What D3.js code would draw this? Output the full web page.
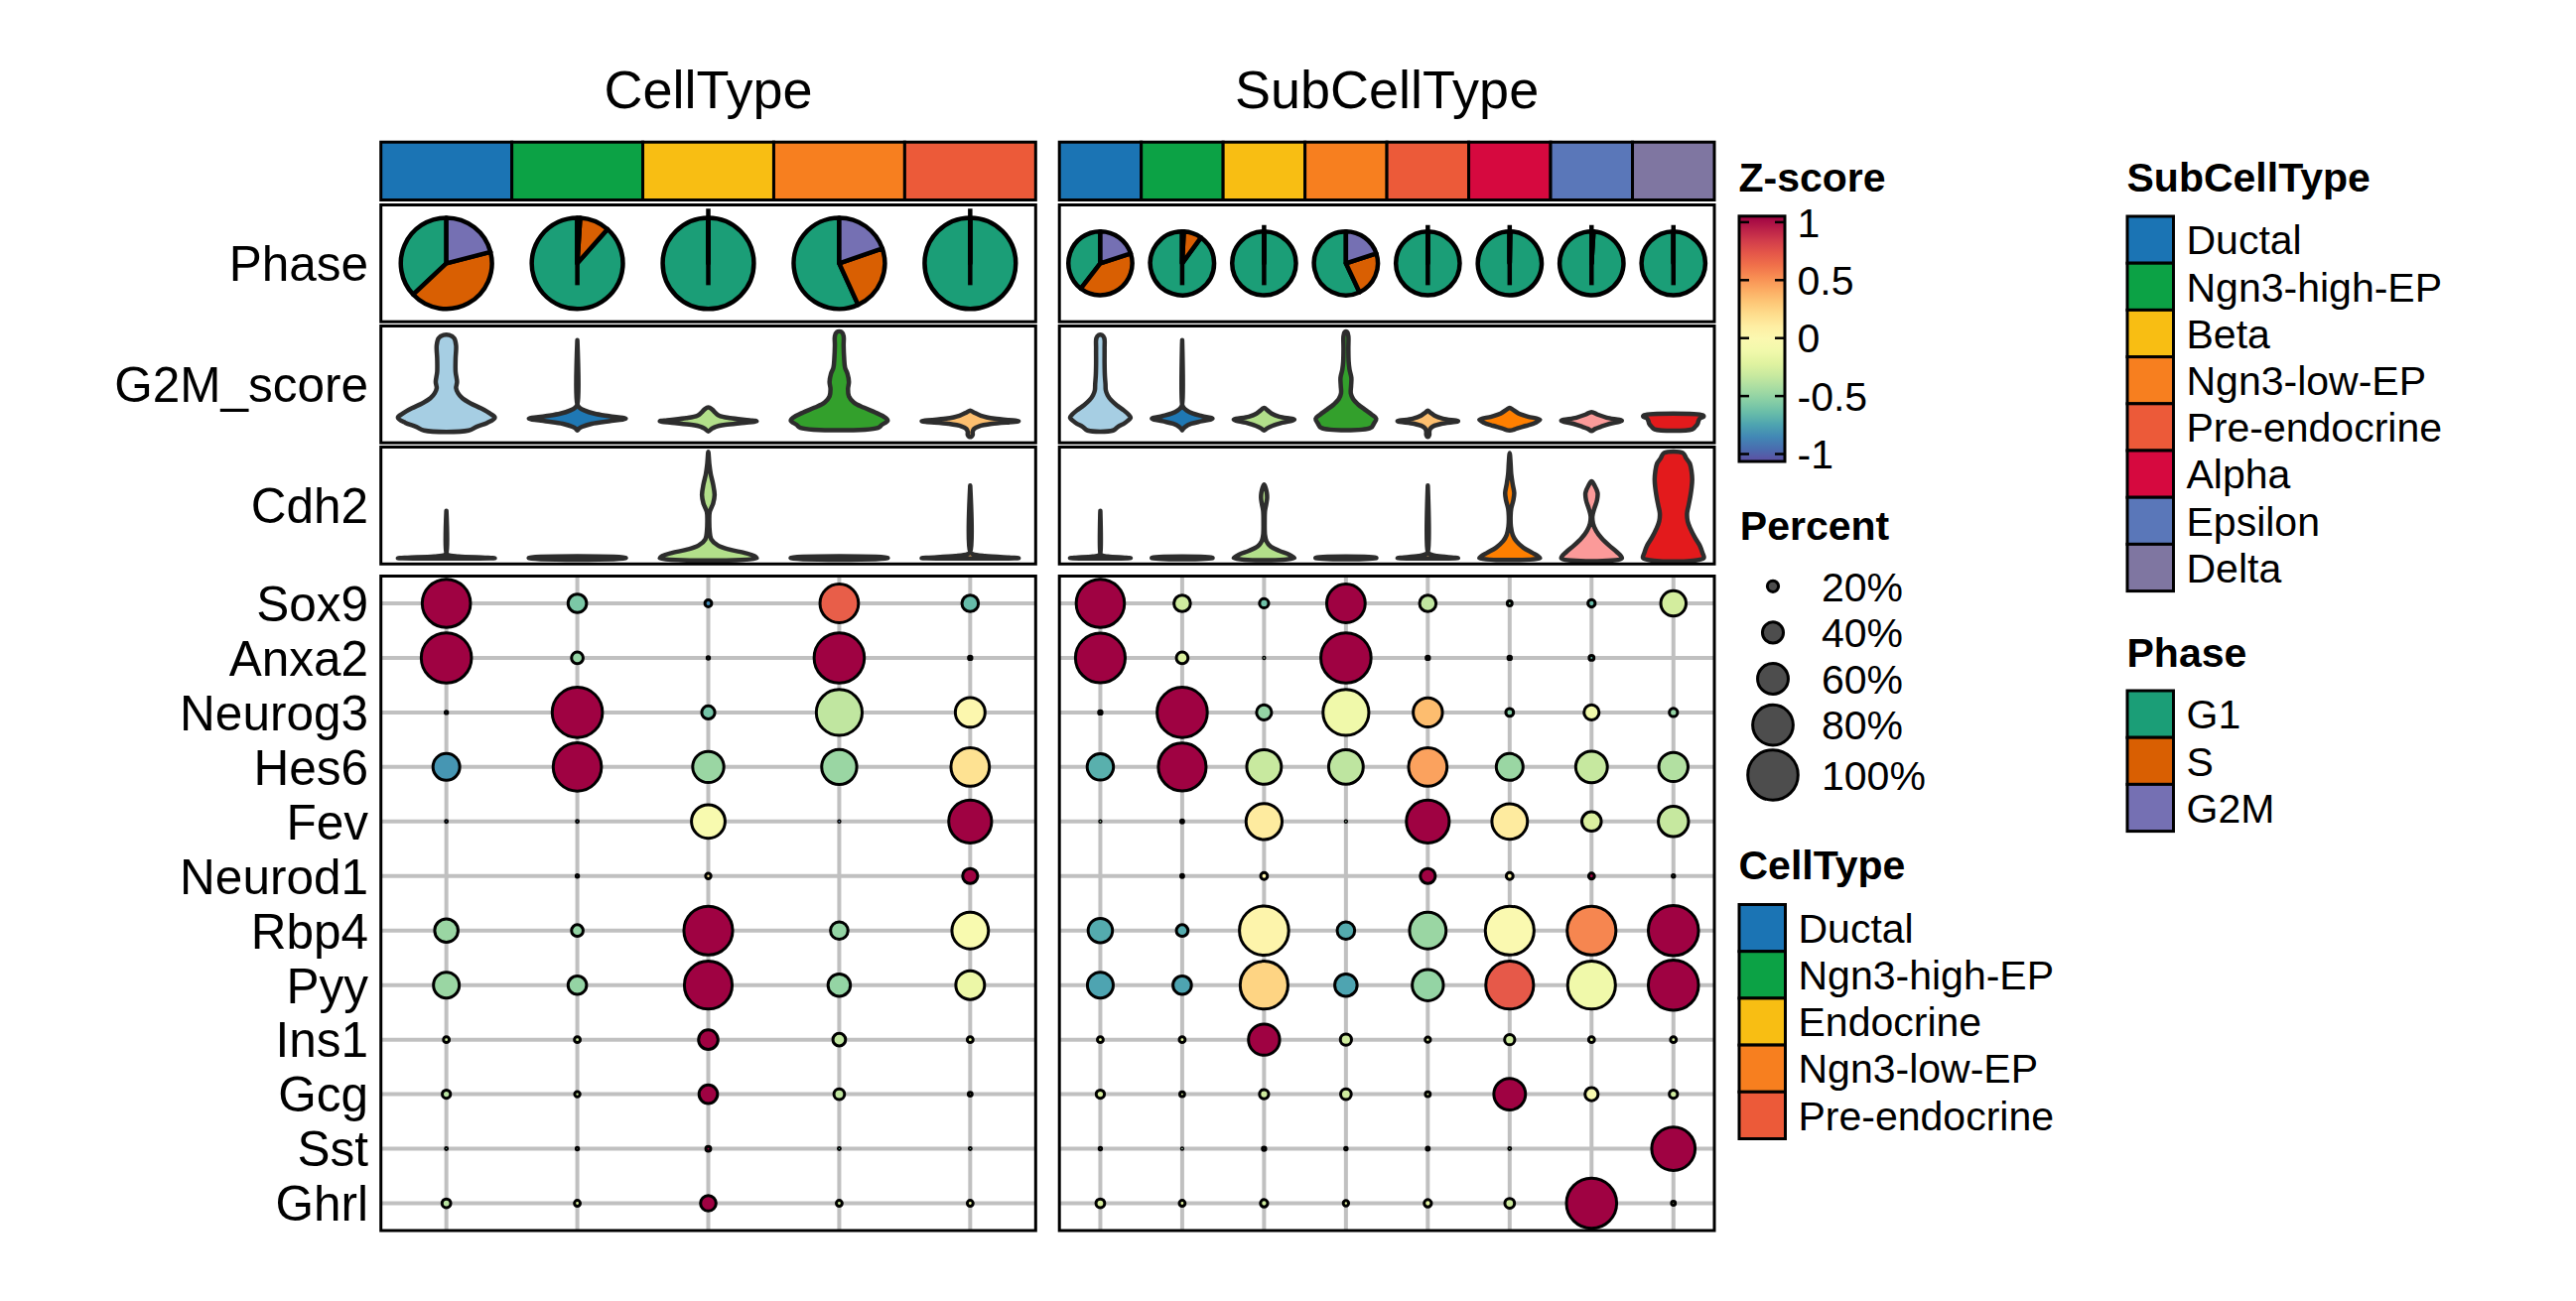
<!DOCTYPE html>
<html><head><meta charset="utf-8">
<script src="https://cdn.jsdelivr.net/npm/d3@7"></script>
<style>
body{margin:0;background:#fff}
svg{display:block}
text{font-family:"Liberation Sans",Arial,Helvetica,sans-serif;fill:#000}
</style>
</head><body>
<svg id="c" width="2595" height="1311"></svg>
<script>
// ---------------- DATA ----------------
const cellTypes = ["Ductal","Ngn3-high-EP","Endocrine","Ngn3-low-EP","Pre-endocrine"];
const subCellTypes = ["Ductal","Ngn3-high-EP","Beta","Ngn3-low-EP","Pre-endocrine","Alpha","Epsilon","Delta"];
const cellTypeColors = ["#1B74B4","#0CA245","#F8BE13","#F77F1F","#EC5A39"];
const subCellTypeColors = ["#1B74B4","#0CA245","#F8BE13","#F77F1F","#EC5A39","#D6093F","#5A77B9","#7F76A1"];
const genes = ["Sox9","Anxa2","Neurog3","Hes6","Fev","Neurod1","Rbp4","Pyy","Ins1","Gcg","Sst","Ghrl"];
const trackLabels = ["Phase","G2M_score","Cdh2"];

const phases = ["G1","S","G2M"];
const phaseColors = ["#1B9E77","#D95F02","#7570B3"];
// fractions per group: [G1, S, G2M]
const phaseCellType = [[0.37,0.42,0.21],[0.885,0.105,0.01],[1,0,0],[0.568,0.235,0.197],[1,0,0]];
const phaseSubCellType = [[0.395,0.405,0.2],[0.9,0.092,0.008],[1,0,0],[0.57,0.23,0.2],[1,0,0],[0.997,0.003,0],[0.99,0.008,0.002],[1,0,0]];

const violinColorsCellType = ["#A6CEE3","#1F78B4","#B2DF8A","#33A02C","#FDBF6F"];
const violinColorsSubCellType = ["#A6CEE3","#1F78B4","#B2DF8A","#33A02C","#FDBF6F","#FF7F00","#FB9A99","#E31A1C"];

// violin density profiles: [value, relative width]
const g2mCellType = [
  [[0.98,0.06],[0.95,0.16],[0.88,0.2],[0.75,0.19],[0.62,0.19],[0.52,0.22],[0.46,0.2],[0.41,0.24],[0.36,0.33],[0.31,0.5],[0.26,0.72],[0.21,0.9],[0.17,1.0],[0.12,0.85],[0.08,0.62],[0.044,0.46]],
  [[0.93,0],[0.30,0],[0.27,0.04],[0.24,0.15],[0.21,0.35],[0.185,0.65],[0.16,1.0],[0.135,0.65],[0.11,0.3],[0.08,0.1],[0.06,0.03],[0.044,0]],
  [[0.27,0],[0.25,0.08],[0.22,0.14],[0.19,0.22],[0.165,0.45],[0.145,0.85],[0.135,1.0],[0.12,0.75],[0.1,0.35],[0.08,0.15],[0.06,0.07],[0.035,0]],
  [[1.01,0.05],[0.97,0.09],[0.88,0.09],[0.76,0.1],[0.66,0.12],[0.6,0.17],[0.52,0.2],[0.45,0.18],[0.38,0.2],[0.32,0.3],[0.27,0.5],[0.22,0.75],[0.17,0.95],[0.14,1.0],[0.1,0.88],[0.07,0.8]],
  [[0.24,0],[0.22,0.08],[0.19,0.22],[0.16,0.5],[0.135,1.0],[0.11,0.45],[0.085,0.18],[0.06,0.08],[0.03,0.05],[0.0,0.05],[-0.02,0]]
];
const g2mSubCellType = [
  [[0.98,0.06],[0.95,0.13],[0.85,0.14],[0.7,0.14],[0.58,0.15],[0.5,0.17],[0.44,0.18],[0.39,0.24],[0.34,0.36],[0.29,0.55],[0.24,0.78],[0.2,0.93],[0.17,1.0],[0.12,0.82],[0.08,0.58],[0.044,0.42]],
  [[0.93,0],[0.30,0],[0.27,0.04],[0.24,0.15],[0.21,0.35],[0.185,0.65],[0.16,1.0],[0.135,0.65],[0.11,0.3],[0.08,0.1],[0.06,0.03],[0.044,0]],
  [[0.266,0],[0.24,0.12],[0.21,0.25],[0.18,0.5],[0.15,1.0],[0.12,0.6],[0.09,0.28],[0.065,0.1],[0.045,0]],
  [[1.01,0.04],[0.97,0.08],[0.85,0.08],[0.72,0.09],[0.64,0.12],[0.56,0.18],[0.48,0.17],[0.41,0.16],[0.35,0.24],[0.3,0.4],[0.25,0.62],[0.2,0.85],[0.16,1.0],[0.11,0.92],[0.07,0.82]],
  [[0.24,0],[0.22,0.08],[0.19,0.22],[0.16,0.5],[0.135,1.0],[0.11,0.45],[0.085,0.18],[0.06,0.08],[0.03,0.05],[0.0,0.05],[-0.02,0]],
  [[0.266,0],[0.245,0.12],[0.21,0.3],[0.18,0.6],[0.15,1.0],[0.12,0.85],[0.09,0.55],[0.065,0.25],[0.045,0.05]],
  [[0.225,0],[0.2,0.2],[0.17,0.5],[0.14,1.0],[0.11,0.6],[0.08,0.3],[0.06,0.12],[0.04,0]],
  [[0.194,0.96],[0.18,1.0],[0.165,0.88],[0.14,0.83],[0.11,0.8],[0.08,0.72],[0.055,0.62]]
];
const cdh2CellType = [
  [[0.45,0],[0.05,0],[0.03,0.03],[0.015,0.25],[0.005,0.8],[0,1.0]],
  [[0.004,1.0],[0,1.0]],
  [[1.01,0],[0.9,0.02],[0.8,0.05],[0.7,0.1],[0.6,0.13],[0.52,0.1],[0.44,0.03],[0.35,0.02],[0.25,0.03],[0.18,0.06],[0.12,0.2],[0.08,0.45],[0.05,0.75],[0.02,0.95],[0,1.0]],
  [[0.004,1.0],[0,1.0]],
  [[0.69,0],[0.06,0],[0.04,0.05],[0.02,0.3],[0.005,0.85],[0,1.0]]
];
const cdh2SubCellType = [
  [[0.45,0],[0.05,0],[0.03,0.03],[0.015,0.25],[0.005,0.8],[0,1.0]],
  [[0.004,1.0],[0,1.0]],
  [[0.70,0],[0.67,0.05],[0.62,0.09],[0.57,0.1],[0.51,0.07],[0.45,0.03],[0.35,0.02],[0.22,0.03],[0.16,0.08],[0.11,0.22],[0.07,0.5],[0.035,0.82],[0,1.0]],
  [[0.004,1.0],[0,1.0]],
  [[0.69,0],[0.06,0],[0.04,0.05],[0.02,0.3],[0.005,0.85],[0,1.0]],
  [[1.0,0],[0.9,0.03],[0.8,0.05],[0.7,0.1],[0.62,0.15],[0.55,0.12],[0.47,0.05],[0.4,0.03],[0.3,0.04],[0.22,0.1],[0.16,0.22],[0.1,0.45],[0.05,0.75],[0.02,0.93],[0,1.0]],
  [[0.73,0],[0.69,0.1],[0.62,0.2],[0.55,0.18],[0.47,0.09],[0.4,0.03],[0.33,0.05],[0.26,0.15],[0.19,0.33],[0.12,0.58],[0.06,0.83],[0,1.0]],
  [[1.0,0.31],[0.95,0.42],[0.9,0.54],[0.82,0.6],[0.75,0.62],[0.67,0.6],[0.59,0.56],[0.5,0.5],[0.43,0.45],[0.35,0.47],[0.28,0.56],[0.2,0.7],[0.12,0.87],[0.05,0.96],[0,1.0]]
];

// dot plot: percent (fraction) and z-score, rows = genes
const pctCellType = [
  [0.96,0.35,0.11,0.76,0.31],
  [1.0,0.21,0.02,1.0,0.04],
  [0.02,1.0,0.24,0.91,0.58],
  [0.52,0.96,0.61,0.69,0.76],
  [0.01,0.01,0.66,0.0,0.85],
  [null,0.02,0.08,null,0.28],
  [0.45,0.21,0.97,0.33,0.72],
  [0.5,0.35,0.95,0.43,0.56],
  [0.09,0.09,0.37,0.23,0.09],
  [0.14,0.08,0.35,0.19,0.05],
  [0.01,0.02,0.07,0.01,0.01],
  [0.15,0.09,0.29,0.09,0.09]
];
const zCellType = [
  [1.05,-0.58,-0.85,0.7,-0.65],
  [1.05,-0.5,-0.8,1.05,-0.8],
  [-0.9,1.05,-0.6,-0.35,0.02],
  [-0.8,1.05,-0.48,-0.48,0.18],
  [-0.9,-0.9,-0.05,-0.9,1.05],
  [null,-0.9,0.15,null,1.05],
  [-0.48,-0.5,1.05,-0.5,-0.05],
  [-0.48,-0.5,1.05,-0.5,-0.15],
  [-0.3,-0.3,1.05,-0.35,-0.2],
  [-0.38,-0.3,1.05,-0.35,-0.2],
  [-0.6,-0.2,1.05,-0.6,-0.6],
  [-0.38,-0.25,1.05,-0.3,-0.15]
];
const pctSubCellType = [
  [0.96,0.31,0.16,0.76,0.31,0.07,0.12,0.49],
  [0.99,0.21,0.0,1.0,0.04,0.04,0.07,null],
  [0.04,1.0,0.28,0.91,0.57,0.13,0.28,0.14],
  [0.51,0.95,0.68,0.68,0.76,0.52,0.62,0.57],
  [0.0,0.03,0.71,0.0,0.85,0.7,0.37,0.59],
  [null,0.03,0.11,null,0.28,0.11,0.09,0.02],
  [0.47,0.21,0.98,0.33,0.72,0.97,0.97,1.0],
  [0.5,0.35,0.95,0.43,0.61,0.95,0.95,1.0],
  [0.09,0.09,0.61,0.2,0.08,0.18,0.09,0.09],
  [0.14,0.07,0.16,0.19,0.07,0.62,0.24,0.14],
  [0.02,0.0,0.04,0.02,0.03,0.01,null,0.86],
  [0.15,0.09,0.12,0.08,0.12,0.17,1.0,0.05]
];
const zSubCellType = [
  [1.05,-0.3,-0.62,1.05,-0.35,-0.5,-0.65,-0.28],
  [1.05,-0.25,-0.5,1.05,-0.5,-0.5,-0.65,null],
  [-0.5,1.05,-0.5,-0.12,0.35,-0.55,-0.12,-0.5],
  [-0.7,1.05,-0.32,-0.36,0.45,-0.48,-0.33,-0.4],
  [-0.5,-0.5,0.12,-0.5,1.05,0.12,-0.25,-0.33],
  [null,-0.5,0.05,null,1.05,0.05,1.05,-0.5],
  [-0.72,-0.72,0.05,-0.72,-0.48,-0.02,0.55,1.05],
  [-0.75,-0.75,0.25,-0.75,-0.5,0.72,-0.12,1.05],
  [-0.2,-0.2,1.05,-0.3,-0.2,-0.3,-0.2,-0.25],
  [-0.25,-0.25,-0.3,-0.3,-0.2,1.05,-0.05,-0.3],
  [-0.5,-0.5,-0.5,-0.5,-0.5,-0.5,null,1.05],
  [-0.25,-0.2,-0.3,-0.2,-0.2,-0.3,1.05,-0.2]
];

const zDomain = [-1.064, 1.052];
const zTicks = [1, 0.5, 0, -0.5, -1];
const zTickLabels = ["1", "0.5", "0", "-0.5", "-1"];
const percentBreaks = [0.2, 0.4, 0.6, 0.8, 1.0];
const percentLabels = ["20%", "40%", "60%", "80%", "100%"];
const g2mDomain = [-0.02, 1.012];
const cdh2Domain = [0, 1.0];

// ---------------- LAYOUT ----------------
const svg = d3.select("#c");
const leftX = [383.7, 1043.3], rightX = [1067.2, 1727];
const stripY = [143.2, 201.5], phaseY = [206.5, 324.2], g2mY = [328.5, 446.2], cdh2Y = [450.5, 568.3], dotY = [580.5, 1240];
const fontAxis = 49.5, fontLegend = 41;
const dotStroke = 3;

const xLeft = d3.scaleBand().domain(cellTypes).range(leftX);
const xRight = d3.scaleBand().domain(subCellTypes).range(rightX);
const yGene = d3.scaleBand().domain(genes).range(dotY);
const zColor = d3.scaleSequential(t => d3.interpolateSpectral(1 - t)).domain(zDomain);
const rScale = d3.scaleLinear().domain([0, 1]).range([2.2, 26.8]);

function padRange(y0, y1){ const p = (y1 - y0) * 0.05; return [y1 - p, y0 + p]; }
const yG2M = d3.scaleLinear().domain(g2mDomain).range(padRange(...g2mY));
const yCdh2 = d3.scaleLinear().domain(cdh2Domain).range(padRange(...cdh2Y));

function frame(x, y){
  svg.append("rect").attr("x", x[0]).attr("y", y[0]).attr("width", x[1]-x[0]).attr("height", y[1]-y[0])
    .attr("fill", "none").attr("stroke", "#000").attr("stroke-width", 3);
}

// titles
svg.append("text").attr("x", (leftX[0]+leftX[1])/2).attr("y", 109).attr("text-anchor","middle").attr("font-size", 54).text("CellType");
svg.append("text").attr("x", (rightX[0]+rightX[1])/2).attr("y", 109).attr("text-anchor","middle").attr("font-size", 54).text("SubCellType");

// strips
function strip(xs, cats, cols){
  svg.append("g").selectAll("rect").data(cats).join("rect")
    .attr("x", d => xs(d)).attr("y", stripY[0]).attr("width", xs.bandwidth()).attr("height", stripY[1]-stripY[0])
    .attr("fill", (d,i) => cols[i]).attr("stroke", "#000").attr("stroke-width", 3);
}
strip(xLeft, cellTypes, cellTypeColors);
strip(xRight, subCellTypes, subCellTypeColors);

// pies
function pies(xs, cats, fracs){
  const cy = (phaseY[0]+phaseY[1])/2;
  const r = 0.39 * Math.min(xs.bandwidth(), phaseY[1]-phaseY[0]);
  const pie = d3.pie().sort(null).value(d => d.v);
  const arc = d3.arc().innerRadius(0).outerRadius(r);
  const order = [2, 1, 0]; // G2M, S, G1 clockwise from 12 o'clock
  fracs.forEach((f, i) => {
    const cx = xs(cats[i]) + xs.bandwidth()/2;
    const g = svg.append("g").attr("transform", `translate(${cx},${cy})`);
    const arcs = pie(order.map(k => ({k, v: f[k]}))).reverse();
    g.selectAll("path").data(arcs).join("path").attr("d", arc)
      .attr("fill", d => phaseColors[d.data.k]).attr("stroke", "#000").attr("stroke-width", 4.5).attr("stroke-linejoin","round");
    if (f[2] < 0.02) {
      const top = f[0] >= 0.99 ? -1.2 * r : -r;
      g.append("line").attr("x1", 0).attr("x2", 0).attr("y1", top).attr("y2", 22)
        .attr("stroke", "#000").attr("stroke-width", 4.5);
    }
  });
}
pies(xLeft, cellTypes, phaseCellType);
pies(xRight, subCellTypes, phaseSubCellType);

// violins
const vLine = d3.line().curve(d3.curveCatmullRomClosed.alpha(0.5));
function violins(xs, cats, profiles, colors, ys){
  const w = d3.scaleLinear().domain([0, 1]).range([0, xs.bandwidth() * 0.37]);
  profiles.forEach((prof, i) => {
    const cx = xs(cats[i]) + xs.bandwidth()/2;
    const right = prof.map(([v, d]) => [cx + w(d), ys(v)]);
    const left = prof.slice().reverse().map(([v, d]) => [cx - w(d), ys(v)]);
    let pts = right.concat(left);
    pts = pts.filter((p, j) => { const q = pts[(j+1) % pts.length]; return !(Math.abs(p[0]-q[0]) < 0.01 && Math.abs(p[1]-q[1]) < 0.01); });
    svg.append("path").attr("d", vLine(pts)).attr("fill", colors[i])
      .attr("stroke", "#2d2d2d").attr("stroke-width", 4.5).attr("stroke-linejoin", "round");
  });
}
violins(xLeft, cellTypes, g2mCellType, violinColorsCellType, yG2M);
violins(xRight, subCellTypes, g2mSubCellType, violinColorsSubCellType, yG2M);
violins(xLeft, cellTypes, cdh2CellType, violinColorsCellType, yCdh2);
violins(xRight, subCellTypes, cdh2SubCellType, violinColorsSubCellType, yCdh2);

// dot plots
function dots(xs, cats, pct, z){
  const g = svg.append("g");
  g.selectAll("line.v").data(cats).join("line")
    .attr("x1", d => xs(d) + xs.bandwidth()/2).attr("x2", d => xs(d) + xs.bandwidth()/2)
    .attr("y1", dotY[0]).attr("y2", dotY[1]).attr("stroke", "#C0C0C0").attr("stroke-width", 4);
  g.selectAll("line.h").data(genes).join("line")
    .attr("y1", d => yGene(d) + yGene.bandwidth()/2).attr("y2", d => yGene(d) + yGene.bandwidth()/2)
    .attr("x1", xs.range()[0]).attr("x2", xs.range()[1]).attr("stroke", "#C0C0C0").attr("stroke-width", 4);
  const pts = [];
  genes.forEach((gn, r) => cats.forEach((c, k) => {
    if (pct[r][k] != null) pts.push({gn, c, p: pct[r][k], z: z[r][k]});
  }));
  g.selectAll("circle").data(pts).join("circle")
    .attr("cx", d => xs(d.c) + xs.bandwidth()/2).attr("cy", d => yGene(d.gn) + yGene.bandwidth()/2)
    .attr("r", d => rScale(d.p) - dotStroke/2).attr("fill", d => zColor(d.z))
    .attr("stroke", "#000").attr("stroke-width", dotStroke);
}
dots(xLeft, cellTypes, pctCellType, zCellType);
dots(xRight, subCellTypes, pctSubCellType, zSubCellType);

// frames
[leftX, rightX].forEach(x => { frame(x, phaseY); frame(x, g2mY); frame(x, cdh2Y); frame(x, dotY); });

// row labels
const labelX = 371;
svg.append("g").selectAll("text").data(genes).join("text")
  .attr("x", labelX).attr("y", d => yGene(d) + yGene.bandwidth()/2 + fontAxis*0.36)
  .attr("text-anchor", "end").attr("font-size", fontAxis).text(d => d);
[phaseY, g2mY, cdh2Y].forEach((yy, i) => {
  svg.append("text").attr("x", labelX).attr("y", (yy[0]+yy[1])/2 + fontAxis*0.36)
    .attr("text-anchor", "end").attr("font-size", fontAxis).text(trackLabels[i]);
});

// ---------------- LEGENDS ----------------
function title(x, y, t){ svg.append("text").attr("x", x).attr("y", y).attr("font-size", fontLegend).attr("font-weight", "bold").text(t); }

// Z-score colorbar
title(1751.5, 193.4, "Z-score");
const cbX = [1752, 1798], cbY = [217.8, 465];
const zY = d3.scaleLinear().domain(zDomain).range([cbY[1], cbY[0]]);
const defs = svg.append("defs");
const grad = defs.append("linearGradient").attr("id", "zg").attr("x1", 0).attr("x2", 0).attr("y1", 1).attr("y2", 0);
d3.range(0, 1.0001, 0.05).forEach(t => {
  grad.append("stop").attr("offset", t).attr("stop-color", zColor(zDomain[0] + t*(zDomain[1]-zDomain[0])));
});
svg.append("rect").attr("x", cbX[0]).attr("y", cbY[0]).attr("width", cbX[1]-cbX[0]).attr("height", cbY[1]-cbY[0])
  .attr("fill", "url(#zg)").attr("stroke", "#000").attr("stroke-width", 3);
zTicks.forEach((t, i) => {
  const y = zY(t);
  svg.append("line").attr("x1", cbX[0]).attr("x2", cbX[0]+10).attr("y1", y).attr("y2", y).attr("stroke", "#000").attr("stroke-width", 2.5);
  svg.append("line").attr("x1", cbX[1]-10).attr("x2", cbX[1]).attr("y1", y).attr("y2", y).attr("stroke", "#000").attr("stroke-width", 2.5);
  svg.append("text").attr("x", 1810.5).attr("y", y + fontLegend*0.36).attr("font-size", fontLegend).text(zTickLabels[i]);
});

// Percent legend
title(1752.8, 544, "Percent");
let py = 567.5;
percentBreaks.forEach((p, i) => {
  const ro = rScale(p);
  const h = Math.max(46.6, 2*ro + 0.5);
  const cy = py + h/2;
  svg.append("circle").attr("cx", 1786).attr("cy", cy).attr("r", ro - dotStroke/2).attr("fill", "#4D4D4D").attr("stroke", "#000").attr("stroke-width", dotStroke);
  svg.append("text").attr("x", 1835).attr("y", cy + fontLegend*0.36).attr("font-size", fontLegend).text(percentLabels[i]);
  py += h;
});

// key legends
function keyLegend(x, titleY, keyTop, labels, cols, t){
  title(x, titleY, t);
  const kh = 47.2;
  labels.forEach((l, i) => {
    svg.append("rect").attr("x", x + 0.5).attr("y", keyTop + i*kh).attr("width", 46.5).attr("height", kh)
      .attr("fill", cols[i]).attr("stroke", "#000").attr("stroke-width", 3);
    svg.append("text").attr("x", x + 60).attr("y", keyTop + i*kh + kh/2 + fontLegend*0.36).attr("font-size", fontLegend).text(l);
  });
}
keyLegend(1751.5, 885.7, 911.5, cellTypes, cellTypeColors, "CellType");
keyLegend(2142.5, 193.4, 218, subCellTypes, subCellTypeColors, "SubCellType");
keyLegend(2142.5, 672.4, 696, phases, phaseColors, "Phase");
</script>
</body></html>
